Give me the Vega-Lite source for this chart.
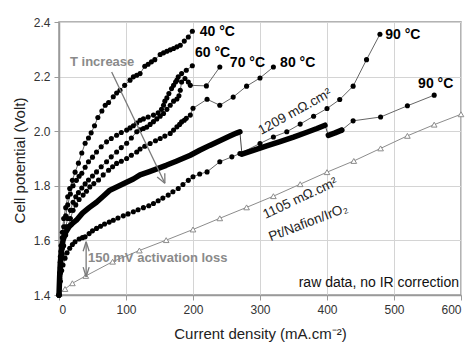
{
  "$schema": "https://vega.github.io/schema/vega-lite/v6.json",
  "width": 402,
  "height": 273,
  "autosize": {"type": "none"},
  "padding": {"left": 59, "top": 22, "right": 11, "bottom": 47},
  "background": "white",
  "config": {
    "font": "Liberation Sans",
    "view": {"stroke": "#9a9a9a", "strokeWidth": 1.5},
    "axis": {
      "gridColor": "#d4d4d4", "gridWidth": 1,
      "domainColor": "#9a9a9a", "domainWidth": 1.5,
      "tickColor": "#9a9a9a", "tickSize": 5,
      "labelFont": "Liberation Sans", "labelFontSize": 12, "labelColor": "#333333",
      "titleFont": "Liberation Sans", "titleFontSize": 15, "titleFontWeight": "normal", "titleColor": "#222222",
      "labelPadding": 3
    }
  },
  "datasets": {
    "tri": [
      {"x": 1, "y": 1.405}, {"x": 9, "y": 1.422}, {"x": 20, "y": 1.443}, {"x": 40, "y": 1.47}, {"x": 80, "y": 1.522},
      {"x": 120, "y": 1.563}, {"x": 160, "y": 1.601}, {"x": 200, "y": 1.64}, {"x": 240, "y": 1.681}, {"x": 280, "y": 1.721},
      {"x": 320, "y": 1.762}, {"x": 360, "y": 1.806}, {"x": 400, "y": 1.85}, {"x": 440, "y": 1.891}, {"x": 480, "y": 1.937},
      {"x": 520, "y": 1.983}, {"x": 560, "y": 2.024}, {"x": 600, "y": 2.062}
    ],
    "thick": [
      {"seg": "A", "x": 0, "y": 1.40}, {"seg": "A", "x": 1, "y": 1.47}, {"seg": "A", "x": 2, "y": 1.52}, {"seg": "A", "x": 4, "y": 1.57},
      {"seg": "A", "x": 6, "y": 1.60}, {"seg": "A", "x": 10, "y": 1.63}, {"seg": "A", "x": 15, "y": 1.65}, {"seg": "A", "x": 20, "y": 1.662},
      {"seg": "A", "x": 26, "y": 1.674}, {"seg": "A", "x": 35, "y": 1.70}, {"seg": "A", "x": 45, "y": 1.72}, {"seg": "A", "x": 56, "y": 1.74},
      {"seg": "A", "x": 66, "y": 1.762}, {"seg": "A", "x": 76, "y": 1.784}, {"seg": "A", "x": 90, "y": 1.80}, {"seg": "A", "x": 100, "y": 1.812},
      {"seg": "A", "x": 111, "y": 1.825}, {"seg": "A", "x": 121, "y": 1.84}, {"seg": "A", "x": 135, "y": 1.852}, {"seg": "A", "x": 146, "y": 1.862},
      {"seg": "A", "x": 160, "y": 1.875}, {"seg": "A", "x": 175, "y": 1.89}, {"seg": "A", "x": 196, "y": 1.912}, {"seg": "A", "x": 210, "y": 1.93},
      {"seg": "A", "x": 225, "y": 1.948}, {"seg": "A", "x": 240, "y": 1.965}, {"seg": "A", "x": 255, "y": 1.982}, {"seg": "A", "x": 265, "y": 1.993},
      {"seg": "A", "x": 270, "y": 1.998},
      {"seg": "B", "x": 273, "y": 1.916}, {"seg": "B", "x": 290, "y": 1.93}, {"seg": "B", "x": 310, "y": 1.946}, {"seg": "B", "x": 330, "y": 1.962},
      {"seg": "B", "x": 350, "y": 1.978}, {"seg": "B", "x": 370, "y": 1.996}, {"seg": "B", "x": 385, "y": 2.01}, {"seg": "B", "x": 397, "y": 2.022},
      {"seg": "C", "x": 402, "y": 1.985}, {"seg": "C", "x": 412, "y": 1.994}, {"seg": "C", "x": 422, "y": 2.004}
    ],
    "pts": [
      {"s": "40", "x": 0, "y": 1.40}, {"s": "40", "x": 1, "y": 1.48}, {"s": "40", "x": 2, "y": 1.54}, {"s": "40", "x": 3, "y": 1.58},
      {"s": "40", "x": 5, "y": 1.63}, {"s": "40", "x": 7, "y": 1.68}, {"s": "40", "x": 10, "y": 1.72}, {"s": "40", "x": 13, "y": 1.76},
      {"s": "40", "x": 16, "y": 1.79}, {"s": "40", "x": 20, "y": 1.82}, {"s": "40", "x": 24, "y": 1.85}, {"s": "40", "x": 29, "y": 1.883},
      {"s": "40", "x": 34, "y": 1.92}, {"s": "40", "x": 39, "y": 1.956}, {"s": "40", "x": 44, "y": 1.975}, {"s": "40", "x": 48, "y": 1.994},
      {"s": "40", "x": 53, "y": 2.02}, {"s": "40", "x": 58, "y": 2.05}, {"s": "40", "x": 64, "y": 2.074}, {"s": "40", "x": 69, "y": 2.095},
      {"s": "40", "x": 74, "y": 2.105}, {"s": "40", "x": 81, "y": 2.126}, {"s": "40", "x": 86, "y": 2.14}, {"s": "40", "x": 91, "y": 2.15},
      {"s": "40", "x": 98, "y": 2.168}, {"s": "40", "x": 106, "y": 2.187}, {"s": "40", "x": 111, "y": 2.199}, {"s": "40", "x": 116, "y": 2.205},
      {"s": "40", "x": 121, "y": 2.211}, {"s": "40", "x": 128, "y": 2.238}, {"s": "40", "x": 133, "y": 2.245}, {"s": "40", "x": 138, "y": 2.254},
      {"s": "40", "x": 143, "y": 2.262}, {"s": "40", "x": 151, "y": 2.281}, {"s": "40", "x": 156, "y": 2.287}, {"s": "40", "x": 161, "y": 2.293},
      {"s": "40", "x": 166, "y": 2.298}, {"s": "40", "x": 171, "y": 2.303}, {"s": "40", "x": 176, "y": 2.309}, {"s": "40", "x": 181, "y": 2.315},
      {"s": "40", "x": 187, "y": 2.33}, {"s": "40", "x": 193, "y": 2.345}, {"s": "40", "x": 199, "y": 2.366},

      {"s": "60", "x": 0, "y": 1.40}, {"s": "60", "x": 1, "y": 1.47}, {"s": "60", "x": 2, "y": 1.52}, {"s": "60", "x": 3, "y": 1.56},
      {"s": "60", "x": 5, "y": 1.61}, {"s": "60", "x": 7, "y": 1.65}, {"s": "60", "x": 10, "y": 1.69}, {"s": "60", "x": 13, "y": 1.73},
      {"s": "60", "x": 17, "y": 1.77}, {"s": "60", "x": 21, "y": 1.80}, {"s": "60", "x": 26, "y": 1.82}, {"s": "60", "x": 30, "y": 1.835},
      {"s": "60", "x": 34, "y": 1.846}, {"s": "60", "x": 39, "y": 1.868}, {"s": "60", "x": 44, "y": 1.888}, {"s": "60", "x": 50, "y": 1.905},
      {"s": "60", "x": 56, "y": 1.924}, {"s": "60", "x": 63, "y": 1.943}, {"s": "60", "x": 71, "y": 1.961}, {"s": "60", "x": 78, "y": 1.973},
      {"s": "60", "x": 86, "y": 1.985}, {"s": "60", "x": 93, "y": 1.995}, {"s": "60", "x": 101, "y": 2.004}, {"s": "60", "x": 106, "y": 2.012},
      {"s": "60", "x": 111, "y": 2.02}, {"s": "60", "x": 116, "y": 2.03}, {"s": "60", "x": 121, "y": 2.04}, {"s": "60", "x": 126, "y": 2.045},
      {"s": "60", "x": 133, "y": 2.052}, {"s": "60", "x": 141, "y": 2.059}, {"s": "60", "x": 148, "y": 2.067}, {"s": "60", "x": 153, "y": 2.08},
      {"s": "60", "x": 156, "y": 2.095}, {"s": "60", "x": 158, "y": 2.11}, {"s": "60", "x": 161, "y": 2.122}, {"s": "60", "x": 164, "y": 2.138},
      {"s": "60", "x": 168, "y": 2.156}, {"s": "60", "x": 171, "y": 2.168}, {"s": "60", "x": 174, "y": 2.18}, {"s": "60", "x": 176, "y": 2.187},
      {"s": "60", "x": 178, "y": 2.199}, {"s": "60", "x": 183, "y": 2.211}, {"s": "60", "x": 190, "y": 2.223}, {"s": "60", "x": 199, "y": 2.24},

      {"s": "70", "x": 0, "y": 1.40}, {"s": "70", "x": 1, "y": 1.46}, {"s": "70", "x": 2, "y": 1.50}, {"s": "70", "x": 3, "y": 1.53},
      {"s": "70", "x": 5, "y": 1.57}, {"s": "70", "x": 7, "y": 1.61}, {"s": "70", "x": 10, "y": 1.65}, {"s": "70", "x": 13, "y": 1.68},
      {"s": "70", "x": 17, "y": 1.71}, {"s": "70", "x": 21, "y": 1.74}, {"s": "70", "x": 25, "y": 1.76}, {"s": "70", "x": 29, "y": 1.775},
      {"s": "70", "x": 34, "y": 1.792}, {"s": "70", "x": 39, "y": 1.807}, {"s": "70", "x": 44, "y": 1.821}, {"s": "70", "x": 50, "y": 1.836},
      {"s": "70", "x": 56, "y": 1.851}, {"s": "70", "x": 63, "y": 1.87}, {"s": "70", "x": 71, "y": 1.888}, {"s": "70", "x": 78, "y": 1.906},
      {"s": "70", "x": 86, "y": 1.924}, {"s": "70", "x": 93, "y": 1.94}, {"s": "70", "x": 101, "y": 1.956}, {"s": "70", "x": 108, "y": 1.975},
      {"s": "70", "x": 116, "y": 1.998}, {"s": "70", "x": 121, "y": 2.005}, {"s": "70", "x": 126, "y": 2.01}, {"s": "70", "x": 131, "y": 2.015},
      {"s": "70", "x": 136, "y": 2.025}, {"s": "70", "x": 141, "y": 2.035}, {"s": "70", "x": 146, "y": 2.045}, {"s": "70", "x": 151, "y": 2.055},
      {"s": "70", "x": 156, "y": 2.065}, {"s": "70", "x": 161, "y": 2.08}, {"s": "70", "x": 166, "y": 2.095}, {"s": "70", "x": 171, "y": 2.11},
      {"s": "70", "x": 176, "y": 2.118}, {"s": "70", "x": 179, "y": 2.13}, {"s": "70", "x": 181, "y": 2.15}, {"s": "70", "x": 183, "y": 2.18},
      {"s": "70", "x": 188, "y": 2.193}, {"s": "70", "x": 193, "y": 2.18}, {"s": "70", "x": 196, "y": 2.168}, {"s": "70", "x": 220, "y": 2.166},
      {"s": "70", "x": 240, "y": 2.235},

      {"s": "80", "x": 0, "y": 1.40}, {"s": "80", "x": 1, "y": 1.45}, {"s": "80", "x": 2, "y": 1.48}, {"s": "80", "x": 3, "y": 1.51},
      {"s": "80", "x": 5, "y": 1.55}, {"s": "80", "x": 7, "y": 1.58}, {"s": "80", "x": 10, "y": 1.62}, {"s": "80", "x": 13, "y": 1.65},
      {"s": "80", "x": 17, "y": 1.68}, {"s": "80", "x": 21, "y": 1.71}, {"s": "80", "x": 25, "y": 1.73}, {"s": "80", "x": 30, "y": 1.75},
      {"s": "80", "x": 36, "y": 1.766}, {"s": "80", "x": 41, "y": 1.78}, {"s": "80", "x": 46, "y": 1.796}, {"s": "80", "x": 52, "y": 1.808},
      {"s": "80", "x": 59, "y": 1.821}, {"s": "80", "x": 66, "y": 1.84}, {"s": "80", "x": 74, "y": 1.857}, {"s": "80", "x": 80, "y": 1.87},
      {"s": "80", "x": 86, "y": 1.882}, {"s": "80", "x": 93, "y": 1.89}, {"s": "80", "x": 101, "y": 1.9}, {"s": "80", "x": 108, "y": 1.912},
      {"s": "80", "x": 116, "y": 1.924}, {"s": "80", "x": 121, "y": 1.935}, {"s": "80", "x": 128, "y": 1.945}, {"s": "80", "x": 136, "y": 1.955},
      {"s": "80", "x": 144, "y": 1.965}, {"s": "80", "x": 151, "y": 1.973}, {"s": "80", "x": 158, "y": 1.982}, {"s": "80", "x": 166, "y": 1.992},
      {"s": "80", "x": 171, "y": 2.004}, {"s": "80", "x": 176, "y": 2.016}, {"s": "80", "x": 180, "y": 2.025}, {"s": "80", "x": 183, "y": 2.034},
      {"s": "80", "x": 187, "y": 2.04}, {"s": "80", "x": 190, "y": 2.047}, {"s": "80", "x": 196, "y": 2.059}, {"s": "80", "x": 200, "y": 2.084},
      {"s": "80", "x": 221, "y": 2.117}, {"s": "80", "x": 240, "y": 2.095}, {"s": "80", "x": 260, "y": 2.125}, {"s": "80", "x": 280, "y": 2.165},
      {"s": "80", "x": 300, "y": 2.195}, {"s": "80", "x": 320, "y": 2.235},

      {"s": "90a", "x": 0, "y": 1.40}, {"s": "90a", "x": 2, "y": 1.45}, {"s": "90a", "x": 4, "y": 1.49}, {"s": "90a", "x": 6, "y": 1.51},
      {"s": "90a", "x": 9, "y": 1.535}, {"s": "90a", "x": 12, "y": 1.555}, {"s": "90a", "x": 16, "y": 1.571}, {"s": "90a", "x": 20, "y": 1.585},
      {"s": "90a", "x": 24, "y": 1.595}, {"s": "90a", "x": 30, "y": 1.605}, {"s": "90a", "x": 35, "y": 1.61}, {"s": "90a", "x": 39, "y": 1.613},
      {"s": "90a", "x": 45, "y": 1.625}, {"s": "90a", "x": 50, "y": 1.635}, {"s": "90a", "x": 56, "y": 1.644}, {"s": "90a", "x": 62, "y": 1.652},
      {"s": "90a", "x": 68, "y": 1.66}, {"s": "90a", "x": 75, "y": 1.667}, {"s": "90a", "x": 81, "y": 1.674}, {"s": "90a", "x": 88, "y": 1.682},
      {"s": "90a", "x": 96, "y": 1.69}, {"s": "90a", "x": 103, "y": 1.697}, {"s": "90a", "x": 111, "y": 1.705}, {"s": "90a", "x": 118, "y": 1.712},
      {"s": "90a", "x": 126, "y": 1.72}, {"s": "90a", "x": 134, "y": 1.727}, {"s": "90a", "x": 141, "y": 1.735}, {"s": "90a", "x": 148, "y": 1.745},
      {"s": "90a", "x": 155, "y": 1.755}, {"s": "90a", "x": 163, "y": 1.766}, {"s": "90a", "x": 170, "y": 1.778}, {"s": "90a", "x": 178, "y": 1.79},
      {"s": "90a", "x": 185, "y": 1.805}, {"s": "90a", "x": 193, "y": 1.82}, {"s": "90a", "x": 200, "y": 1.833}, {"s": "90a", "x": 210, "y": 1.843},
      {"s": "90a", "x": 221, "y": 1.851}, {"s": "90a", "x": 240, "y": 1.888}, {"s": "90a", "x": 258, "y": 1.906}, {"s": "90a", "x": 270, "y": 1.918},
      {"s": "90a", "x": 300, "y": 1.955}, {"s": "90a", "x": 320, "y": 1.979}, {"s": "90a", "x": 340, "y": 1.998}, {"s": "90a", "x": 360, "y": 2.026},
      {"s": "90a", "x": 380, "y": 2.055}, {"s": "90a", "x": 400, "y": 2.083}, {"s": "90a", "x": 419, "y": 2.116}, {"s": "90a", "x": 439, "y": 2.165},
      {"s": "90a", "x": 459, "y": 2.262}, {"s": "90a", "x": 479, "y": 2.355},

      {"s": "90b", "x": 422, "y": 2.004}, {"s": "90b", "x": 439, "y": 2.038}, {"s": "90b", "x": 480, "y": 2.052}, {"s": "90b", "x": 520, "y": 2.093},
      {"s": "90b", "x": 560, "y": 2.132}
    ],
    "arrows": [
      {"x": 78.6, "y": 2.217, "x2": 158, "y2": 1.809},
      {"x": 158, "y": 1.809, "x2": 157.9, "y2": 1.846},
      {"x": 158, "y": 1.809, "x2": 146.5, "y2": 1.832},
      {"x": 40.5, "y": 1.595, "x2": 40.5, "y2": 1.467},
      {"x": 40.5, "y": 1.595, "x2": 36, "y2": 1.56},
      {"x": 40.5, "y": 1.595, "x2": 45, "y2": 1.56},
      {"x": 40.5, "y": 1.467, "x2": 36, "y2": 1.502},
      {"x": 40.5, "y": 1.467, "x2": 45, "y2": 1.502}
    ],
    "tlabels": [
      {"x": 210, "y": 2.362, "t": "40 °C"},
      {"x": 203, "y": 2.285, "t": "60 °C"},
      {"x": 255, "y": 2.25, "t": "70 °C"},
      {"x": 330, "y": 2.25, "t": "80 °C"},
      {"x": 487, "y": 2.351, "t": "90 °C"},
      {"x": 536, "y": 2.172, "t": "90 °C"}
    ],
    "glabels": [
      {"x": 16.4, "y": 2.253, "t": "T increase"},
      {"x": 43.3, "y": 1.535, "t": "150 mV activation loss"}
    ],
    "rlabels": [
      {"x": 352, "y": 2.071, "a": -29, "t": "1209 mΩ.cm²"},
      {"x": 360, "y": 1.754, "a": -25, "t": "1105 mΩ.cm²"},
      {"x": 372, "y": 1.665, "a": -21, "t": "Pt/Nafion/IrO₂"}
    ],
    "note": [
      {"x": 597, "y": 1.444, "t": "raw data, no IR correction"}
    ]
  },
  "encoding": {
    "x": {
      "field": "x", "type": "quantitative",
      "scale": {"domain": [0, 600], "nice": false},
      "axis": {
        "values": [0, 100, 200, 300, 400, 500, 600],
        "title": "Current density (mA.cm⁻²)",
        "titleX": 201, "titleY": 38, "titleBaseline": "middle",
        "labelPadding": 4
      }
    },
    "y": {
      "field": "y", "type": "quantitative",
      "scale": {"domain": [1.4, 2.4], "nice": false, "zero": false},
      "axis": {
        "values": [1.4, 1.6, 1.8, 2.0, 2.2, 2.4],
        "format": ".1f",
        "title": "Cell potential (Volt)",
        "titleX": -40, "titleY": 138, "titleBaseline": "middle",
        "labelPadding": 4
      }
    }
  },
  "layer": [
    {"data": {"name": "tri"}, "mark": {"type": "line", "color": "#8c8c8c", "strokeWidth": 1}, "encoding": {}},
    {"data": {"name": "tri"}, "mark": {"type": "point", "shape": "triangle-up", "filled": true, "fill": "white", "stroke": "#8c8c8c", "strokeWidth": 1, "size": 32, "opacity": 1}},
    {"data": {"name": "pts"}, "mark": {"type": "line", "color": "#666666", "strokeWidth": 1}, "encoding": {"detail": {"field": "s"}}},
    {"data": {"name": "thick"}, "mark": {"type": "line", "color": "#444444", "strokeWidth": 1}, "encoding": {}},
    {"data": {"name": "thick"}, "mark": {"type": "line", "color": "black", "strokeWidth": 5.5, "strokeCap": "round", "strokeJoin": "round"}, "encoding": {"detail": {"field": "seg"}}},
    {"data": {"name": "pts"}, "mark": {"type": "circle", "color": "black", "size": 26, "opacity": 1}},
    {"data": {"name": "arrows"}, "mark": {"type": "rule", "color": "#7a7a7a", "strokeWidth": 1.3}, "encoding": {"x2": {"field": "x2"}, "y2": {"field": "y2"}}},
    {"data": {"name": "tlabels"}, "mark": {"type": "text", "align": "left", "baseline": "middle", "font": "Liberation Sans", "fontSize": 14, "fontWeight": "bold", "color": "black"}, "encoding": {"text": {"field": "t"}}},
    {"data": {"name": "glabels"}, "mark": {"type": "text", "align": "left", "baseline": "middle", "font": "Liberation Sans", "fontSize": 13, "fontWeight": "bold", "color": "#8a8a8a"}, "encoding": {"text": {"field": "t"}}},
    {"data": {"name": "rlabels"}, "mark": {"type": "text", "align": "center", "baseline": "middle", "font": "Liberation Sans", "fontSize": 13.5, "color": "#222222"}, "encoding": {"text": {"field": "t"}, "angle": {"field": "a", "type": "quantitative", "scale": null}}},
    {"data": {"name": "note"}, "mark": {"type": "text", "align": "right", "baseline": "middle", "font": "Liberation Sans", "fontSize": 14, "color": "#111111"}, "encoding": {"text": {"field": "t"}}}
  ]
}
